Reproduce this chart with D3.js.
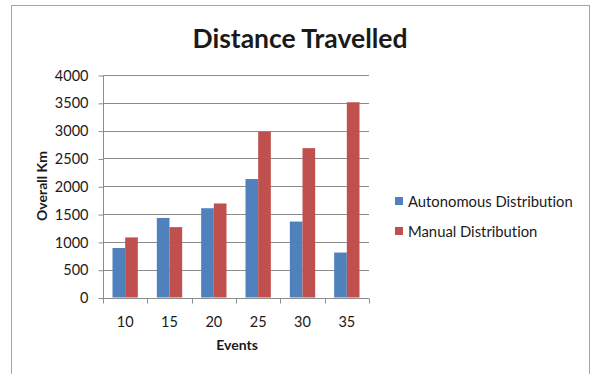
<!DOCTYPE html>
<html>
<head>
<meta charset="utf-8">
<script src="https://cdn.jsdelivr.net/npm/d3@7"></script>
<style>
  html, body { margin: 0; padding: 0; background: #fff; }
  svg { display: block; font-family: Lato, "Open Sans", sans-serif; font-variant-ligatures: none; font-feature-settings: "liga" 0, "clig" 0; }
</style>
</head>
<body>
<svg id="chart" width="591" height="374"></svg>
<script>
// Events on the x axis
const events = ["10", "15", "20", "25", "30", "35"];
// Overall km per event count
const autonomous = [890, 1430, 1605, 2130, 1365, 808];
const manual = [1080, 1265, 1690, 2980, 2685, 3510];
const seriesNames = ["Autonomous Distribution", "Manual Distribution"];
const seriesColors = ["#4F81BD", "#C0504D"];
const yTicks = [0, 500, 1000, 1500, 2000, 2500, 3000, 3500, 4000];

const svg = d3.select("#chart");

// outer chart frame
svg.append("rect")
  .attr("x", 11.5).attr("y", 5.5)
  .attr("width", 578).attr("height", 380)
  .attr("fill", "#fff").attr("stroke", "#a6a6a6").attr("stroke-width", 1);

const plot = { left: 103, right: 369, top: 75, bottom: 297.5 };

const x = d3.scaleBand().domain(events)
  .range([plot.left, plot.right]).paddingInner(0).paddingOuter(0);
const y = d3.scaleLinear().domain([0, 4000]).range([plot.bottom, plot.top]);

// horizontal gridlines
svg.append("g").selectAll("line").data(yTicks.filter(d => d > 0)).join("line")
  .attr("x1", plot.left).attr("x2", plot.right)
  .attr("y1", d => Math.round(y(d)) + 0.5).attr("y2", d => Math.round(y(d)) + 0.5)
  .attr("stroke", "#8c8c8c").attr("stroke-width", 1);

// bars: two per category, gap of 150% of a bar width
const bw = x.bandwidth() / 3.5;
const rows = events.map((e, i) => ({ e, vals: [autonomous[i], manual[i]] }));
const groups = svg.append("g").selectAll("g").data(rows).join("g")
  .attr("transform", d => `translate(${x(d.e) + bw * 0.75},0)`);
groups.selectAll("rect").data(d => d.vals).join("rect")
  .attr("x", (d, j) => j * bw)
  .attr("y", d => y(d))
  .attr("width", bw)
  .attr("height", d => plot.bottom - y(d))
  .attr("fill", (d, j) => seriesColors[j]);

// y axis
const yAxis = d3.axisLeft(y).tickValues(yTicks).tickSize(5).tickPadding(10)
  .tickFormat(d3.format("d"));
const gy = svg.append("g").attr("transform", `translate(${plot.left + 0.5},0.5)`).call(yAxis);
gy.select(".domain").attr("stroke", "#8c8c8c").attr("d", `M0,${y(4000)}V${y(0)}`);
gy.selectAll(".tick line").attr("stroke", "#8c8c8c");
gy.selectAll("text").attr("font-size", 14.5).attr("fill", "#1a1a1a")
  .attr("font-family", "Lato, sans-serif");

// x axis with ticks between categories
const gx = svg.append("g").attr("transform", `translate(0,${Math.round(plot.bottom) + 0.5})`);
gx.append("line").attr("x1", plot.left).attr("x2", plot.right)
  .attr("stroke", "#8c8c8c");
const bounds = events.map(e => x(e)).concat([plot.right]);
gx.selectAll("line.tk").data(bounds).join("line").attr("class", "tk")
  .attr("x1", d => Math.round(d) + 0.5).attr("x2", d => Math.round(d) + 0.5)
  .attr("y1", 0).attr("y2", 5).attr("stroke", "#8c8c8c");
gx.selectAll("text").data(events).join("text")
  .attr("x", d => x(d) + x.bandwidth() / 2)
  .attr("y", 28)
  .attr("text-anchor", "middle")
  .attr("font-size", 14.5).attr("fill", "#1a1a1a")
  .text(d => d);

// titles
svg.append("text").attr("x", 300).attr("y", 48)
  .attr("text-anchor", "middle").attr("font-size", 26.5).attr("font-weight", "bold")
  .attr("fill", "#1a1a1a").text("Distance Travelled");
svg.append("text").attr("x", 237).attr("y", 350)
  .attr("text-anchor", "middle").attr("font-size", 14).attr("font-weight", "bold")
  .attr("fill", "#1a1a1a").text("Events");
svg.append("text")
  .attr("transform", "translate(47,186) rotate(-90)")
  .attr("text-anchor", "middle").attr("font-size", 14).attr("font-weight", "bold")
  .attr("fill", "#1a1a1a").text("Overall Km");

// legend
const leg = svg.append("g").selectAll("g").data(seriesNames).join("g")
  .attr("transform", (d, i) => `translate(395,${201 + i * 30})`);
leg.append("rect").attr("x", 0).attr("y", -4).attr("width", 8).attr("height", 8)
  .attr("fill", (d, i) => seriesColors[i]);
leg.append("text").attr("x", 13).attr("y", 5.5)
  .attr("font-size", 14.8).attr("fill", "#1a1a1a").text(d => d);
</script>
</body>
</html>
